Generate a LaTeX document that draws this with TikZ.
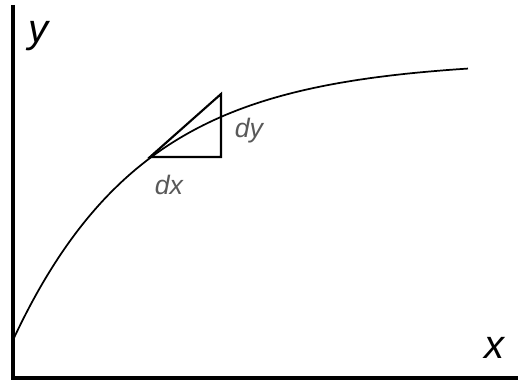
\documentclass[tikz,border=0pt]{standalone}
\usepackage{fontspec}
\setmainfont{Liberation Sans}
\begin{document}
\begin{tikzpicture}[
	% one unit is one pixel of the sketch, y runs downwards
	x=0.75pt, y=-0.75pt,
	axis/.style={line width=2.6pt},
	curve/.style={line width=1.3pt},
	tri/.style={line width=1.6pt, line join=miter},
	biglabel/.style={font=\itshape\fontsize{30}{31}\selectfont, inner sep=0pt},
	smalllabel/.style={font=\itshape\fontsize{20}{21}\selectfont, text=black!65, inner sep=0pt}
	]
	
	\useasboundingbox (0,0) rectangle (518,381);
	
	% --- AXES ---
	\coordinate (top) at (13,5);
	\coordinate (origin) at (13,378);
	\coordinate (right) at (518,378);
	\draw[axis] (top) -- (origin) -- (right);
	
	\node[biglabel] (ylab) at (38,36) {y};
	\node[biglabel] (xlab) at (494,348) {x};
	
	% --- CURVE ---
	\draw[curve] plot[domain=13:468, samples=80, smooth]
		(\x, {60+280*exp(-0.00766*(\x-13))});
	
	% --- TRIANGLE ---
	\coordinate (p) at (150,157);
	\coordinate (q) at (221,157);
	\coordinate (r) at (221,94);
	\draw[tri] (p) -- (q) -- (r) -- cycle;
	
	\node[smalllabel] (dxlab) at (169,185) {dx};
	\node[smalllabel] (dylab) at (249,131) {dy};
	
\end{tikzpicture}
\end{document}
